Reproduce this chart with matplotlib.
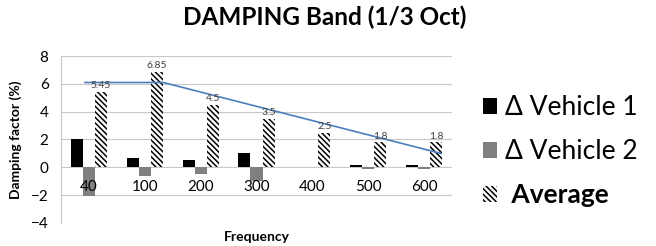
import matplotlib.pyplot as plt
from matplotlib.patches import Patch
import numpy as np

plt.rcParams['font.family'] = ['Lato', 'DejaVu Sans']
plt.rcParams['hatch.linewidth'] = 1.1

freqs = ['40', '100', '200', '300', '400', '500', '600']
vehicle1 = [2.05, 0.65, 0.5, 1.0, 0.0, 0.15, 0.15]
vehicle2 = [-2.05, -0.62, -0.45, -1.0, 0.0, -0.15, -0.15]
average = [5.45, 6.85, 4.5, 3.5, 2.5, 1.8, 1.8]
avg_labels = ['5.45', '6.85', '4.5', '3.5', '2.5', '1.8', '1.8']
# hand-drawn trend line (category units)
trend_x = [-0.07, 1.33, 6.3]
trend_y = [6.1, 6.1, 1.0]

fig = plt.figure(figsize=(6.56, 2.46), dpi=100)
ax = fig.add_axes([0.093, 0.094, 0.596, 0.678])

hatch = '\\\\\\\\\\\\'
x = np.arange(len(freqs))
w = 0.215
ax.bar(x - w, vehicle1, w, color='black', zorder=3)
ax.bar(x, vehicle2, w, color='#808080', zorder=3)
ax.bar(x + w, average, w, color='white', edgecolor='black', hatch=hatch, lw=0, zorder=3)
for xi, v, t in zip(x, average, avg_labels):
    ax.text(xi + w, v + 0.12, t, ha='center', va='bottom', fontsize=7.5, color='#404040', zorder=5)

ax.plot(trend_x, trend_y, color='#4a7ebb', lw=1.2, zorder=4)

ax.set_xlim(-0.5, 6.5)
ax.set_ylim(-4, 8)
ax.set_yticks(range(-4, 9, 2))
ax.yaxis.grid(True, color='#c8c8c8', lw=0.8, zorder=0)
ax.tick_params(axis='y', length=0, labelsize=11, pad=9)
ax.set_xticks([])
for xi, f in zip(x, freqs):
    ax.text(xi, -1.4, f, ha='center', va='center', fontsize=11, zorder=6)

for s in ['top', 'right', 'bottom']:
    ax.spines[s].set_visible(False)
ax.spines['left'].set_color('#c8c8c8')

ax.set_ylabel('Damping factor (%)', fontsize=10, fontweight='bold', labelpad=6)
ax.set_xlabel('Frequency', fontsize=10, fontweight='bold', labelpad=6)
fig.text(0.495, 0.93, 'DAMPING Band (1/3 Oct)', ha='center', va='center', fontsize=17.5, fontweight='bold')

handles = [Patch(facecolor='black'), Patch(facecolor='#808080'),
           Patch(facecolor='white', edgecolor='black', hatch=hatch, lw=0)]
leg = fig.legend(handles, ['Δ Vehicle 1', 'Δ Vehicle 2', ' Average'], loc='center left',
                 bbox_to_anchor=(0.70, 0.386), frameon=False, fontsize=19,
                 handlelength=0.55, handleheight=0.55, handletextpad=0.3, labelspacing=0.72)
leg.get_texts()[2].set_fontweight('bold')

fig.savefig('out.png', dpi=100)
